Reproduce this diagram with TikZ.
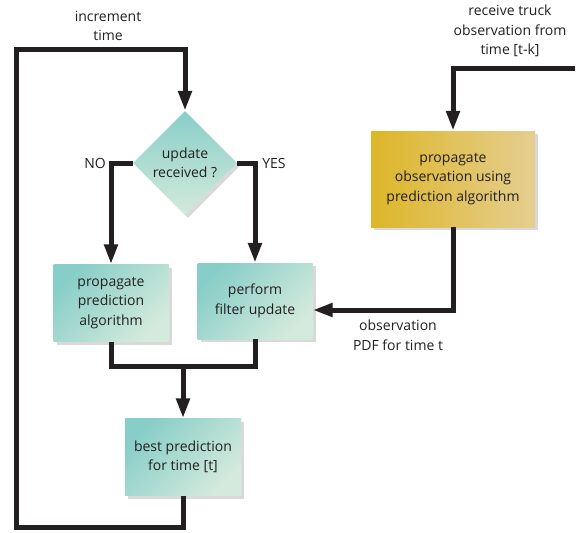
\documentclass[tikz,border=0pt]{standalone}
\usepackage{fontspec}
\setmainfont{Open Sans}
\usetikzlibrary{shapes.geometric,arrows.meta,shadows}
\definecolor{ink}{HTML}{231F20}
\definecolor{tealdark}{HTML}{88CEC8}
\definecolor{teallight}{HTML}{D4EADC}
\definecolor{golddark}{HTML}{DDB628}
\definecolor{goldlight}{HTML}{E5CE90}
\begin{document}
\begin{tikzpicture}[x=1pt,y=-1pt,
  font=\fontsize{14}{19.5}\selectfont,
  box/.style={rectangle,minimum width=115pt,minimum height=77pt,align=center,text=ink,
    top color=tealdark,bottom color=teallight,shading angle=45,
    drop shadow={opacity=0.3,shadow xshift=3pt,shadow yshift=-3pt}},
  decision/.style={diamond,aspect=1,inner sep=0pt,minimum width=104pt,minimum height=104pt,
    align=center,text=ink,top color=tealdark,bottom color=teallight,
    drop shadow={opacity=0.3,shadow xshift=3pt,shadow yshift=-3pt}},
  note/.style={align=center,text=ink},
  wire/.style={draw=ink,line width=5pt},
  flow/.style={wire,-{Triangle[length=20pt,width=13pt]}}]
  \useasboundingbox (0,0) rectangle (584,533);
  % nodes
  \node[decision] (upd) at (185,163) {update\\received ?};
  \node[box] (predict) at (111,303) {propagate\\prediction\\algorithm};
  \node[box,minimum height=76pt] (filter) at (255,301) {perform\\filter update};
  \node[box,minimum width=116pt] (best) at (183,457) {best prediction\\for time [t]};
  \node[box,minimum width=164pt,minimum height=96pt,left color=golddark,right color=goldlight] (propobs) at (453,179)
    {propagate\\observation using\\prediction algorithm};
  % labels
  \node[note] (inc) at (108,26) {increment\\time};
  \node[note] (recvtxt) at (510,31) {receive truck\\observation from\\time [t-k]};
  \node[note] (obstxt) at (398,335) {observation\\PDF for time t};
  \node[note] (no) at (95,163) {NO};
  \node[note] (yes) at (274,163) {YES};
  % free ends
  \coordinate (looptl) at (16,49);
  \coordinate (loopbl) at (16,527);
  \coordinate (recv) at (575,68);
  \coordinate (joinrow) at (0,366);
  \coordinate (obsrow) at (0,310);
  % connectors
  \draw[flow] (upd.west) -| (predict.north);
  \draw[flow] (upd.east) -| (filter.north);
  \draw[wire] (predict.south) |- (best.north |- joinrow) -| (filter.south);
  \draw[flow] (best.north |- joinrow) -- (best.north);
  \draw[flow] (best.south) |- (loopbl) -- (looptl) -| (upd.north);
  \draw[flow] (recv) -| (propobs.north);
  \draw[flow] (propobs.south) |- (filter.east |- obsrow);
\end{tikzpicture}
\end{document}
